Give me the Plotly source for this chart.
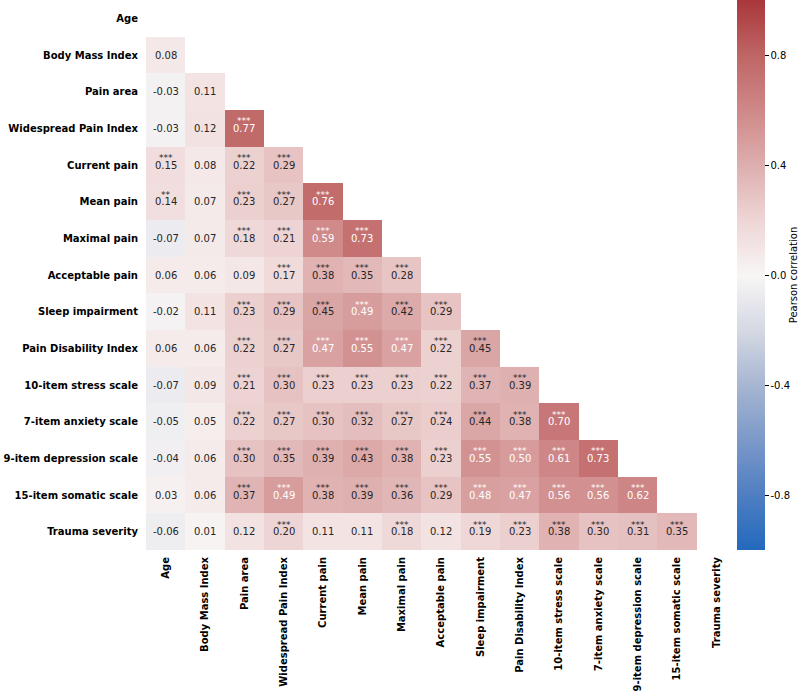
import plotly.graph_objects as go

variables = ["Age", "Body Mass Index", "Pain area", "Widespread Pain Index",
             "Current pain", "Mean pain", "Maximal pain", "Acceptable pain",
             "Sleep impairment", "Pain Disability Index", "10-item stress scale",
             "7-item anxiety scale", "9-item depression scale",
             "15-item somatic scale", "Trauma severity"]

# lower triangle correlations (row i, columns 0..i-1)
corr_rows = [
    [],
    [0.08],
    [-0.03, 0.11],
    [-0.03, 0.12, 0.77],
    [0.15, 0.08, 0.22, 0.29],
    [0.14, 0.07, 0.23, 0.27, 0.76],
    [-0.07, 0.07, 0.18, 0.21, 0.59, 0.73],
    [0.06, 0.06, 0.09, 0.17, 0.38, 0.35, 0.28],
    [-0.02, 0.11, 0.23, 0.29, 0.45, 0.49, 0.42, 0.29],
    [0.06, 0.06, 0.22, 0.27, 0.47, 0.55, 0.47, 0.22, 0.45],
    [-0.07, 0.09, 0.21, 0.30, 0.23, 0.23, 0.23, 0.22, 0.37, 0.39],
    [-0.05, 0.05, 0.22, 0.27, 0.30, 0.32, 0.27, 0.24, 0.44, 0.38, 0.70],
    [-0.04, 0.06, 0.30, 0.35, 0.39, 0.43, 0.38, 0.23, 0.55, 0.50, 0.61, 0.73],
    [0.03, 0.06, 0.37, 0.49, 0.38, 0.39, 0.36, 0.29, 0.48, 0.47, 0.56, 0.56, 0.62],
    [-0.06, 0.01, 0.12, 0.20, 0.11, 0.11, 0.18, 0.12, 0.19, 0.23, 0.38, 0.30, 0.31, 0.35],
]

star_rows = [
    [],
    [""],
    ["", ""],
    ["", "", "***"],
    ["***", "", "***", "***"],
    ["**", "", "***", "***", "***"],
    ["", "", "***", "***", "***", "***"],
    ["", "", "", "***", "***", "***", "***"],
    ["", "", "***", "***", "***", "***", "***", "***"],
    ["", "", "***", "***", "***", "***", "***", "***", "***"],
    ["", "", "***", "***", "***", "***", "***", "***", "***", "***"],
    ["", "", "***", "***", "***", "***", "***", "***", "***", "***", "***"],
    ["", "", "***", "***", "***", "***", "***", "***", "***", "***", "***", "***"],
    ["", "", "***", "***", "***", "***", "***", "***", "***", "***", "***", "***", "***"],
    ["", "", "", "***", "", "", "***", "", "***", "***", "***", "***", "***", "***"],
]

colorbar_ticks = [-0.8, -0.4, 0.0, 0.4, 0.8]
colorbar_ticktext = ["-0.8", "-0.4", "0.0", "0.4", "0.8"]

n = len(variables)
z = [[(corr_rows[i][j] if j < i else None) for j in range(n)] for i in range(n)]

vlag = [
    [0.0, "#2369bd"], [0.1, "#4f7ec2"], [0.2, "#7c99c9"], [0.3, "#a7b6d1"],
    [0.4, "#d5d9e4"], [0.5, "#f8f5f5"], [0.6, "#eed5d5"], [0.7, "#deaeae"],
    [0.8, "#cf8888"], [0.9, "#bf6565"], [1.0, "#a9373b"],
]

fig = go.Figure(go.Heatmap(
    z=z, x=variables, y=variables, zmin=-1, zmax=1, colorscale=vlag,
    hoverongaps=False, xgap=0, ygap=0,
    colorbar=dict(
        title=dict(text="Pearson correlation", side="right",
                   font=dict(family="DejaVu Sans", size=10, color="#000")),
        thickness=28, len=1, lenmode="fraction", y=0.5, yanchor="middle",
        x=(737 - 146) / 619, xanchor="left", xpad=0, ypad=0,
        outlinewidth=0, tickvals=colorbar_ticks, ticktext=colorbar_ticktext,
        ticks="outside", ticklen=4, tickcolor="#000",
        tickfont=dict(family="DejaVu Sans", size=10, color="#000"),
    ),
))

annotations = []
for i in range(n):
    for j in range(i):
        v = corr_rows[i][j]
        col = "#ffffff" if v > 0.46 else "#262626"
        annotations.append(dict(
            x=variables[j], y=variables[i], text=f"{v:.2f}", showarrow=False,
            font=dict(family="DejaVu Sans", size=10, color=col)))
        s = star_rows[i][j]
        if s:
            annotations.append(dict(
                x=variables[j], y=variables[i], text=s, showarrow=False,
                yshift=7,
                font=dict(family="DejaVu Sans", size=9, color=col)))

fig.update_layout(
    width=800, height=696,
    margin=dict(l=146, r=35, t=0, b=146, autoexpand=False),
    plot_bgcolor="white", paper_bgcolor="white",
    annotations=annotations,
    xaxis=dict(domain=[0, 590 / 619], tickangle=-90, showgrid=False,
               zeroline=False, ticks="", ticklabelstandoff=4, automargin=False,
               tickfont=dict(family="DejaVu Sans", size=10, color="#000",
                             weight="bold")),
    yaxis=dict(autorange="reversed", showgrid=False, zeroline=False,
               ticks="", ticklabelstandoff=7, automargin=False,
               tickfont=dict(family="DejaVu Sans", size=10, color="#000",
                             weight="bold")),
)

fig.write_html(
    "out.html",
    config={"displayModeBar": False},
    post_script="document.body.style.margin='0';document.body.style.overflow='hidden';",
)
